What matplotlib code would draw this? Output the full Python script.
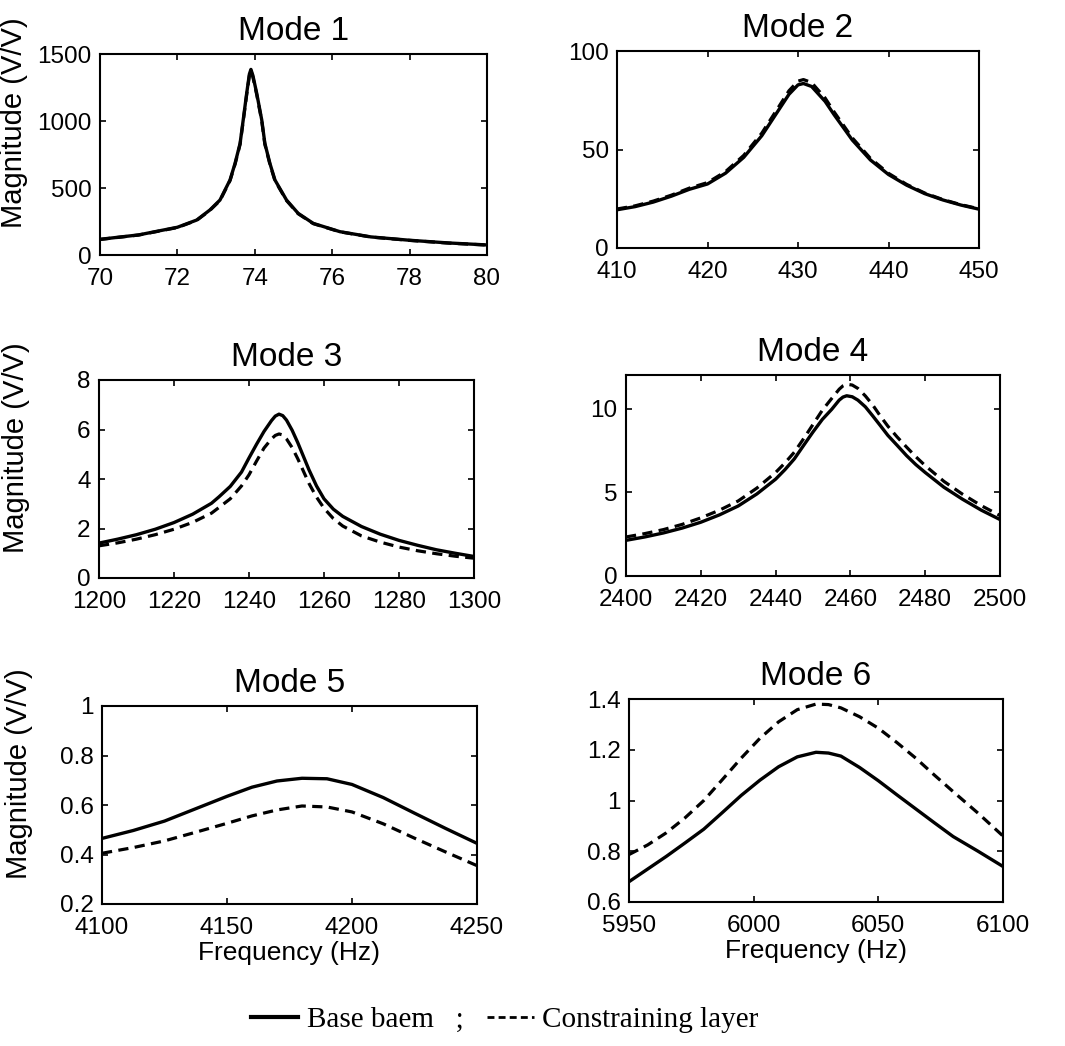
import matplotlib
matplotlib.use("Agg")
import matplotlib.pyplot as plt
from matplotlib.lines import Line2D
from matplotlib.ticker import FormatStrFormatter

plt.rcParams['font.family'] = ['Liberation Sans', 'DejaVu Sans']

# === Data ===
m1_freq = [70, 71, 72, 72.5, 72.84, 73.1, 73.36, 73.49, 73.62, 73.7, 73.79, 73.86, 73.9, 73.95,
           74.05, 74.18, 74.26, 74.39, 74.52, 74.82, 75.12, 75.51, 76.2, 77, 78, 79, 80]
m1_base = [117, 150, 207, 261, 336, 410, 560, 684, 833, 1007, 1206, 1350, 1385, 1340,
           1206, 1007, 833, 684, 560, 410, 311, 236, 174, 135, 110, 90, 75]
m1_layer = [116, 149, 205, 259, 333, 406, 555, 678, 826, 998, 1196, 1338, 1373, 1329,
            1196, 999, 826, 678, 555, 406, 308, 234, 173, 134, 109, 89, 74]

m2_freq = [410, 412, 414, 416, 418, 420, 422, 424, 426, 428, 429, 430, 430.6, 431.5,
           433, 434, 436, 438, 440, 442, 444, 446, 448, 450]
m2_base = [19.4, 21, 23.3, 26.3, 29.8, 32.5, 38, 46, 57, 71, 78, 82.8, 83.5, 82,
           74.4, 67.6, 54.8, 44.7, 37.3, 31.9, 27.6, 24.4, 21.8, 19.7]
m2_layer = [19.8, 21.4, 23.8, 26.8, 30.4, 33.2, 38.8, 47, 58.3, 72.6, 79.8, 84.7, 85.5, 84,
            76.1, 69, 55.9, 45.5, 37.9, 32.3, 27.9, 24.6, 22, 19.9]

m3_freq = [1200, 1205, 1210, 1215, 1220, 1225, 1230, 1232, 1235, 1238, 1240, 1242, 1244, 1246,
           1247, 1248, 1249, 1250, 1251.5, 1253, 1254.5, 1256, 1258, 1260, 1262.5, 1265, 1270,
           1275, 1280, 1285, 1290, 1295, 1300]
m3_base = [1.41, 1.57, 1.75, 1.97, 2.24, 2.58, 3.02, 3.28, 3.7, 4.28, 4.85, 5.4, 5.92, 6.36,
           6.54, 6.62, 6.56, 6.38, 5.97, 5.47, 4.92, 4.37, 3.72, 3.2, 2.78, 2.49, 2.08,
           1.77, 1.52, 1.32, 1.14, 1.0, 0.87]
m3_layer = [1.3, 1.42, 1.57, 1.75, 1.97, 2.25, 2.62, 2.85, 3.2, 3.72, 4.17, 4.72, 5.25, 5.62,
            5.76, 5.82, 5.78, 5.62, 5.27, 4.82, 4.32, 3.82, 3.27, 2.82, 2.4, 2.1, 1.7,
            1.45, 1.25, 1.1, 0.98, 0.88, 0.8]

m4_freq = [2400, 2405, 2410, 2415, 2420, 2425, 2430, 2435, 2440, 2442.5, 2445, 2447.5, 2450,
           2452.5, 2455, 2457, 2458, 2459, 2460.5, 2462, 2464, 2466, 2468, 2470, 2472.5, 2475,
           2477.5, 2480, 2485, 2490, 2495, 2500]
m4_base = [2.13, 2.33, 2.57, 2.86, 3.21, 3.65, 4.18, 4.9, 5.78, 6.35, 6.99, 7.8, 8.6,
           9.35, 9.95, 10.5, 10.68, 10.76, 10.7, 10.5, 10.1, 9.55, 8.98, 8.4, 7.8, 7.19,
           6.65, 6.18, 5.3, 4.58, 3.93, 3.37]
m4_layer = [2.33, 2.53, 2.77, 3.08, 3.47, 3.93, 4.48, 5.25, 6.18, 6.75, 7.39, 8.2, 9.05,
            9.9, 10.6, 11.15, 11.35, 11.45, 11.4, 11.2, 10.75, 10.2, 9.55, 8.95, 8.3, 7.7,
            7.12, 6.59, 5.65, 4.88, 4.2, 3.61]

m5_freq = [4100, 4112.5, 4125, 4137.5, 4150, 4160, 4170, 4180, 4190, 4200, 4212.5, 4225, 4237.5, 4250]
m5_base = [0.465, 0.497, 0.535, 0.585, 0.635, 0.672, 0.697, 0.708, 0.706, 0.683, 0.63, 0.567, 0.505, 0.445]
m5_layer = [0.405, 0.428, 0.455, 0.49, 0.526, 0.556, 0.58, 0.596, 0.592, 0.572, 0.524, 0.466, 0.41, 0.355]

m6_freq = [5950, 5957.5, 5965, 5972.5, 5980, 5987.5, 5995, 6002.5, 6010, 6017.5, 6025, 6030,
           6035, 6042.5, 6050, 6057.5, 6065, 6072.5, 6080, 6090, 6100]
m6_base = [0.68, 0.73, 0.78, 0.833, 0.887, 0.953, 1.02, 1.08, 1.133, 1.172, 1.19, 1.187,
           1.175, 1.13, 1.078, 1.022, 0.967, 0.912, 0.858, 0.8, 0.74]
m6_layer = [0.787, 0.825, 0.873, 0.932, 1.0, 1.083, 1.167, 1.245, 1.31, 1.358, 1.38, 1.378,
            1.365, 1.33, 1.285, 1.228, 1.167, 1.1, 1.035, 0.95, 0.86]

titles = ['Mode 1', 'Mode 2', 'Mode 3', 'Mode 4', 'Mode 5', 'Mode 6']
xticks = [[70, 72, 74, 76, 78, 80], [410, 420, 430, 440, 450],
          [1200, 1220, 1240, 1260, 1280, 1300], [2400, 2420, 2440, 2460, 2480, 2500],
          [4100, 4150, 4200, 4250], [5950, 6000, 6050, 6100]]
yticks = [[0, 500, 1000, 1500], [0, 50, 100], [0, 2, 4, 6, 8], [0, 5, 10],
          [0.2, 0.4, 0.6, 0.8, 1.0], [0.6, 0.8, 1.0, 1.2, 1.4]]
ylims = [(0, 1500), (0, 100), (0, 8), (0, 12), (0.2, 1.0), (0.6, 1.4)]

modes = [(m1_freq, m1_base, m1_layer), (m2_freq, m2_base, m2_layer),
         (m3_freq, m3_base, m3_layer), (m4_freq, m4_base, m4_layer),
         (m5_freq, m5_base, m5_layer), (m6_freq, m6_base, m6_layer)]

# axes boxes in pixels: left, right, top, bottom
W, H = 1065, 1046
boxes = [(100, 487, 54, 255), (617, 979, 51, 248),
         (99, 474, 380, 578), (626, 1000, 375, 576),
         (102, 477, 706, 904), (629, 1003, 699, 902)]

fig = plt.figure(figsize=(W / 100, H / 100), dpi=100)

for i, (l, r, t, b) in enumerate(boxes):
    ax = fig.add_axes([l / W, 1 - b / H, (r - l) / W, (b - t) / H])
    f, base, layer = modes[i]
    ax.plot(f, layer, color='black', linewidth=2.3, dashes=(3.2, 2.0))
    ax.plot(f, base, color='black', linewidth=2.4)
    ax.set_xlim(xticks[i][0], xticks[i][-1])
    ax.set_ylim(*ylims[i])
    ax.set_xticks(xticks[i])
    ax.set_yticks(yticks[i])
    ax.yaxis.set_major_formatter(FormatStrFormatter('%g'))
    ax.tick_params(direction='in', length=4, width=1.2, labelsize=17.5,
                   top=True, right=True)
    ax.tick_params(axis='x', pad=9)
    ax.tick_params(axis='y', pad=6)
    for s in ax.spines.values():
        s.set_linewidth(1.5)
    ax.set_title(titles[i], fontsize=24, pad=10)
    if i % 2 == 0:
        ax.set_ylabel('Magnitude (V/V)', fontsize=21)
        ax.yaxis.set_label_coords(-0.185, 0.66)
    if i >= 4:
        ax.set_xlabel('Frequency (Hz)', fontsize=19, labelpad=2)

handles = [Line2D([], [], color='black', linewidth=3),
           Line2D([], [], color='black', linewidth=2, dashes=(2.5, 1.5))]
fig.legend(handles, ['Base baem   ;', 'Constraining layer'], loc='center',
           bbox_to_anchor=(505 / W, 1 - 1020 / H), ncol=2, frameon=False,
           prop={'family': 'Liberation Serif', 'size': 21},
           handlelength=1.6, handletextpad=0.3, columnspacing=0.8)

fig.savefig('out.png', dpi=100)
